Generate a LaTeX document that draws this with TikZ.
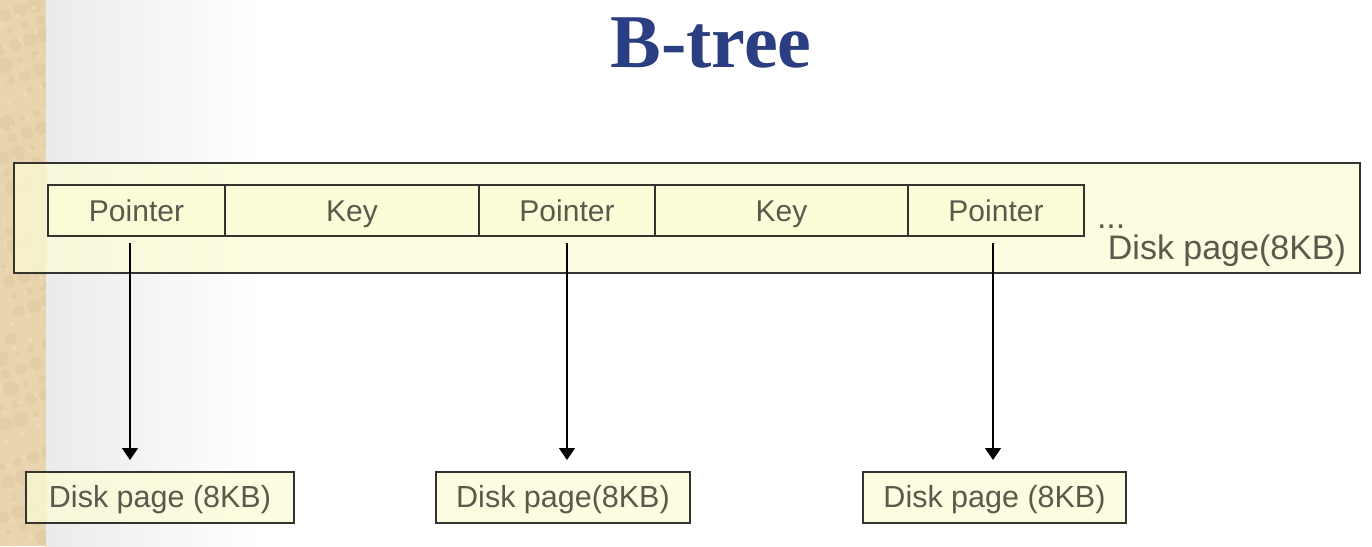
\documentclass[tikz,border=0pt]{standalone}
\usepackage{fontspec}
\setmainfont{Liberation Sans}
\newfontfamily\titlefont{Liberation Serif}
\usetikzlibrary{arrows.meta}
\definecolor{titleblue}{HTML}{2B3E82}
\definecolor{inkgrey}{HTML}{5A5A4C}
\definecolor{edgegrey}{HTML}{333330}
\definecolor{paper}{HTML}{FCFCD6}
\definecolor{parchment}{HTML}{E8D4AE}
\definecolor{parchmentdark}{HTML}{D9C29A}
\definecolor{parchmentlight}{HTML}{F0E2C4}
\begin{document}
\begin{tikzpicture}[x=1pt,y=-1pt,
  every node/.style={inner sep=0pt, outer sep=0pt},
  cell/.style={draw=edgegrey, line width=1.6pt, fill=paper, fill opacity=0.75,
    text opacity=1, text=inkgrey, minimum height=51pt,
    text height=26pt, text depth=5pt, font=\fontsize{30}{34}\selectfont},
  pagebox/.style={draw=edgegrey, line width=1.6pt, fill=paper, fill opacity=0.75,
    text opacity=1, text=inkgrey, minimum height=51pt,
    text height=25pt, text depth=6pt, font=\fontsize{30.5}{34}\selectfont},
  arr/.style={draw=black, line width=1.3pt, -{Triangle[length=12pt,width=16pt]}}]
\useasboundingbox (0,0) rectangle (1372,546);
% page background: parchment strip on the left, soft grey fade into white
\fill[white] (0,0) rectangle (1372,546);
\shade[left color=gray!16, right color=white] (45,0) rectangle (260,546);
\fill[parchment] (0,0) rectangle (46,546);
\begin{scope}
\clip (0,0) rectangle (46,546);
\foreach \i in {1,...,90}{
  \pgfmathsetmacro{\px}{mod(\i*37,50)}
  \pgfmathsetmacro{\py}{mod(\i*113,560)}
  \pgfmathsetmacro{\pr}{3+mod(\i*7,6)}
  \fill[parchmentdark, opacity=0.35] (\px,\py) circle (\pr pt);
}
\foreach \i in {1,...,70}{
  \pgfmathsetmacro{\px}{mod(\i*23,50)}
  \pgfmathsetmacro{\py}{mod(\i*71,560)}
  \pgfmathsetmacro{\pr}{2+mod(\i*5,5)}
  \fill[parchmentlight, opacity=0.5] (\px,\py) circle (\pr pt);
}
\end{scope}
% title
\node[anchor=base, text=titleblue, font=\titlefont\bfseries\fontsize{76}{80}\selectfont] (title) at (711,67) {B-tree};
% disk page holding the node entries
\node[draw=edgegrey, line width=1.6pt, fill=paper, fill opacity=0.75,
  minimum width=1346pt, minimum height=110pt] (page) at (687,218) {};
\node[cell, minimum width=177pt] (p1) at (136.5,210.5) {Pointer};
\node[cell, minimum width=254pt] (k1) at (352,210.5) {Key};
\node[cell, minimum width=176pt] (p2) at (567,210.5) {Pointer};
\node[cell, minimum width=253pt] (k2) at (781.5,210.5) {Key};
\node[cell, minimum width=176pt] (p3) at (996,210.5) {Pointer};
\node[text=inkgrey, font=\fontsize{34}{36}\selectfont, anchor=base west] (dots) at (1097,228) {...};
\node[text=inkgrey, font=\fontsize{34}{38}\selectfont, anchor=base east] (pagelabel) at (1346,259) {Disk page(8KB)};
% child pages
\node[pagebox, minimum width=268pt] (d1) at (160,497.5) {Disk page (8KB)};
\node[pagebox, minimum width=254pt] (d2) at (563,497.5) {Disk page(8KB)};
\node[pagebox, minimum width=263pt] (d3) at (994.5,497.5) {Disk page (8KB)};
% pointers to the child pages
\draw[arr, shorten <=7pt, shorten >=12pt] ([xshift=-6.5pt]p1.south) -- ([xshift=-6.5pt]p1.south |- d1.north);
\draw[arr, shorten <=7pt, shorten >=12pt] (p2.south) -- (p2.south |- d2.north);
\draw[arr, shorten <=7pt, shorten >=12pt] ([xshift=-3pt]p3.south) -- ([xshift=-3pt]p3.south |- d3.north);
\end{tikzpicture}
\end{document}
